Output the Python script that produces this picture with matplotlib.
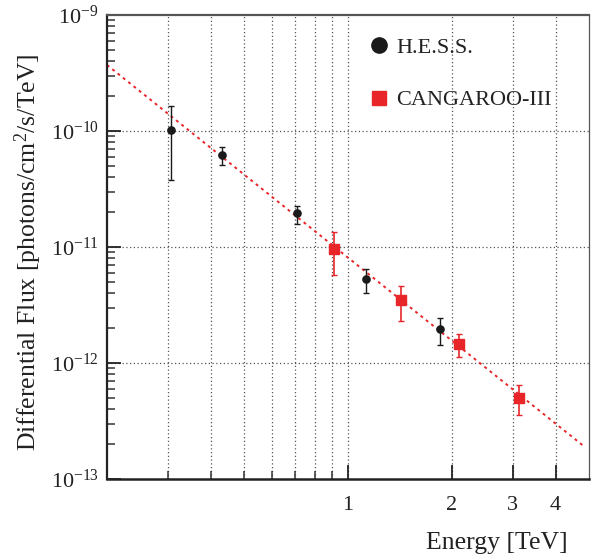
import matplotlib
matplotlib.use("Agg")
import matplotlib.pyplot as plt
from matplotlib.lines import Line2D
import numpy as np

plt.rcParams['font.family'] = ['Liberation Serif', 'DejaVu Serif']
plt.rcParams['mathtext.fontset'] = 'custom'
plt.rcParams['mathtext.rm'] = 'Liberation Serif'
plt.rcParams['mathtext.it'] = 'Liberation Serif:italic'
plt.rcParams['mathtext.bf'] = 'Liberation Serif:bold'

# ---- data ----
hess_energy = [0.307, 0.432, 0.713, 1.127, 1.854]
hess_flux = [1.02e-10, 6.25e-11, 1.95e-11, 5.26e-12, 1.96e-12]
hess_err_hi = [1.64e-10, 7.33e-11, 2.27e-11, 6.46e-12, 2.46e-12]
hess_err_lo = [3.79e-11, 5.09e-11, 1.59e-11, 4.01e-12, 1.43e-12]

cang_energy = [0.913, 1.423, 2.10, 3.13]
cang_flux = [9.6e-12, 3.49e-12, 1.47e-12, 5.02e-13]
cang_err_hi = [1.34e-11, 4.64e-12, 1.79e-12, 6.42e-13]
cang_err_lo = [5.74e-12, 2.32e-12, 1.13e-12, 3.58e-13]

fit_energy = [0.2, 4.85]
fit_flux = [3.71e-10, 1.9e-13]

xtick_vals = [1, 2, 3, 4]
xtick_labels = ['1', '2', '3', '4']
xgrid_vals = [0.3, 0.4, 0.5, 0.6, 0.7, 0.8, 0.9, 1, 2, 3, 4]
ytick_vals = [1e-13, 1e-12, 1e-11, 1e-10, 1e-9]
ytick_labels = [r'$10^{-13}$', r'$10^{-12}$', r'$10^{-11}$', r'$10^{-10}$', r'$10^{-9}$']

red = '#e8262a'
black = '#1a1a1a'

fig = plt.figure(figsize=(5.92, 5.59), dpi=100)
ax = fig.add_axes([107/592, (559-479)/559, (589-107)/592, (479-15)/559])
ax.set_xscale('log')
ax.set_yscale('log')
ax.set_xlim(0.2, 5)
ax.set_ylim(1e-13, 1e-9)

# grid
for xv in xgrid_vals:
    ax.axvline(xv, color='#555555', lw=0.9, ls=(0, (1, 2)), zorder=0)
for yv in ytick_vals[1:-1]:
    ax.axhline(yv, color='#555555', lw=0.9, ls=(0, (1, 2)), zorder=0)

# fit line
ax.plot(fit_energy, fit_flux, color=red, lw=1.4, ls=(0, (1.5, 2)), zorder=2)

# data
h_lo = np.array(hess_flux) - np.array(hess_err_lo)
h_hi = np.array(hess_err_hi) - np.array(hess_flux)
ax.errorbar(hess_energy, hess_flux, yerr=[h_lo, h_hi], fmt='o', color=black,
            ms=5.2, elinewidth=1.0, capsize=2.2, capthick=1.0, zorder=4)
c_lo = np.array(cang_flux) - np.array(cang_err_lo)
c_hi = np.array(cang_err_hi) - np.array(cang_flux)
ax.errorbar(cang_energy, cang_flux, yerr=[c_lo, c_hi], fmt='s', color=red,
            ms=6.5, elinewidth=1.2, capsize=2.2, capthick=1.0, zorder=4)

# ticks
ax.set_xticks(xtick_vals)
ax.set_xticklabels(xtick_labels)
ax.set_xticks(xgrid_vals, minor=True)
ax.xaxis.set_minor_formatter(matplotlib.ticker.NullFormatter())
ax.set_yticks(ytick_vals)
ax.set_yticklabels(ytick_labels)
ax.yaxis.set_minor_locator(matplotlib.ticker.LogLocator(base=10, subs=np.arange(2, 10), numticks=20))
ax.yaxis.set_minor_formatter(matplotlib.ticker.NullFormatter())
ax.tick_params(axis='both', which='major', direction='in', length=10, width=1.3,
               labelsize=16, top=False, right=False, colors='#222222')
ax.tick_params(axis='both', which='minor', direction='in', length=5.5, width=1.1,
               top=False, right=False, colors='#333333')
ax.tick_params(axis='x', which='major', pad=12, length=10)
ax.tick_params(axis='y', which='major', pad=6)
for lab in ax.get_xticklabels() + ax.get_yticklabels():
    lab.set_color('#222222')

for side, lw in [('left', 1.6), ('bottom', 1.8), ('top', 1.6), ('right', 0.9)]:
    ax.spines[side].set_linewidth(lw)
    ax.spines[side].set_color('#222222' if side in ('left', 'bottom') else '#555555')

ax.set_xlabel('Energy [TeV]', fontsize=18.5, color='#222222')
ax.xaxis.set_label_coords(1.0 - (589 - 568) / 482, -(543 - 479) / 464)
ax.xaxis.label.set_horizontalalignment('right')
ax.xaxis.label.set_verticalalignment('center')
ax.set_ylabel(r'Differential Flux [photons/cm$^2$/s/TeV]', fontsize=18.5, color='#222222')
ax.yaxis.set_label_coords(-(107 - 28) / 482, 1.0 - (252 - 15) / 464)
ax.yaxis.label.set_verticalalignment('center')

# legend
handles = [Line2D([], [], marker='o', color=black, ls='none', ms=11),
           Line2D([], [], marker='s', color=red, ls='none', ms=9.5)]
leg = fig.legend(handles, ['H.E.S.S.', 'CANGAROO-III'], loc='upper left',
                 bbox_to_anchor=(357/592, 1 - 26/559), frameon=False, fontsize=16,
                 handlelength=1.0, handletextpad=0.25, labelspacing=1.45, borderpad=0)
for t in leg.get_texts():
    t.set_color('#222222')

fig.savefig('out.png', dpi=100)
